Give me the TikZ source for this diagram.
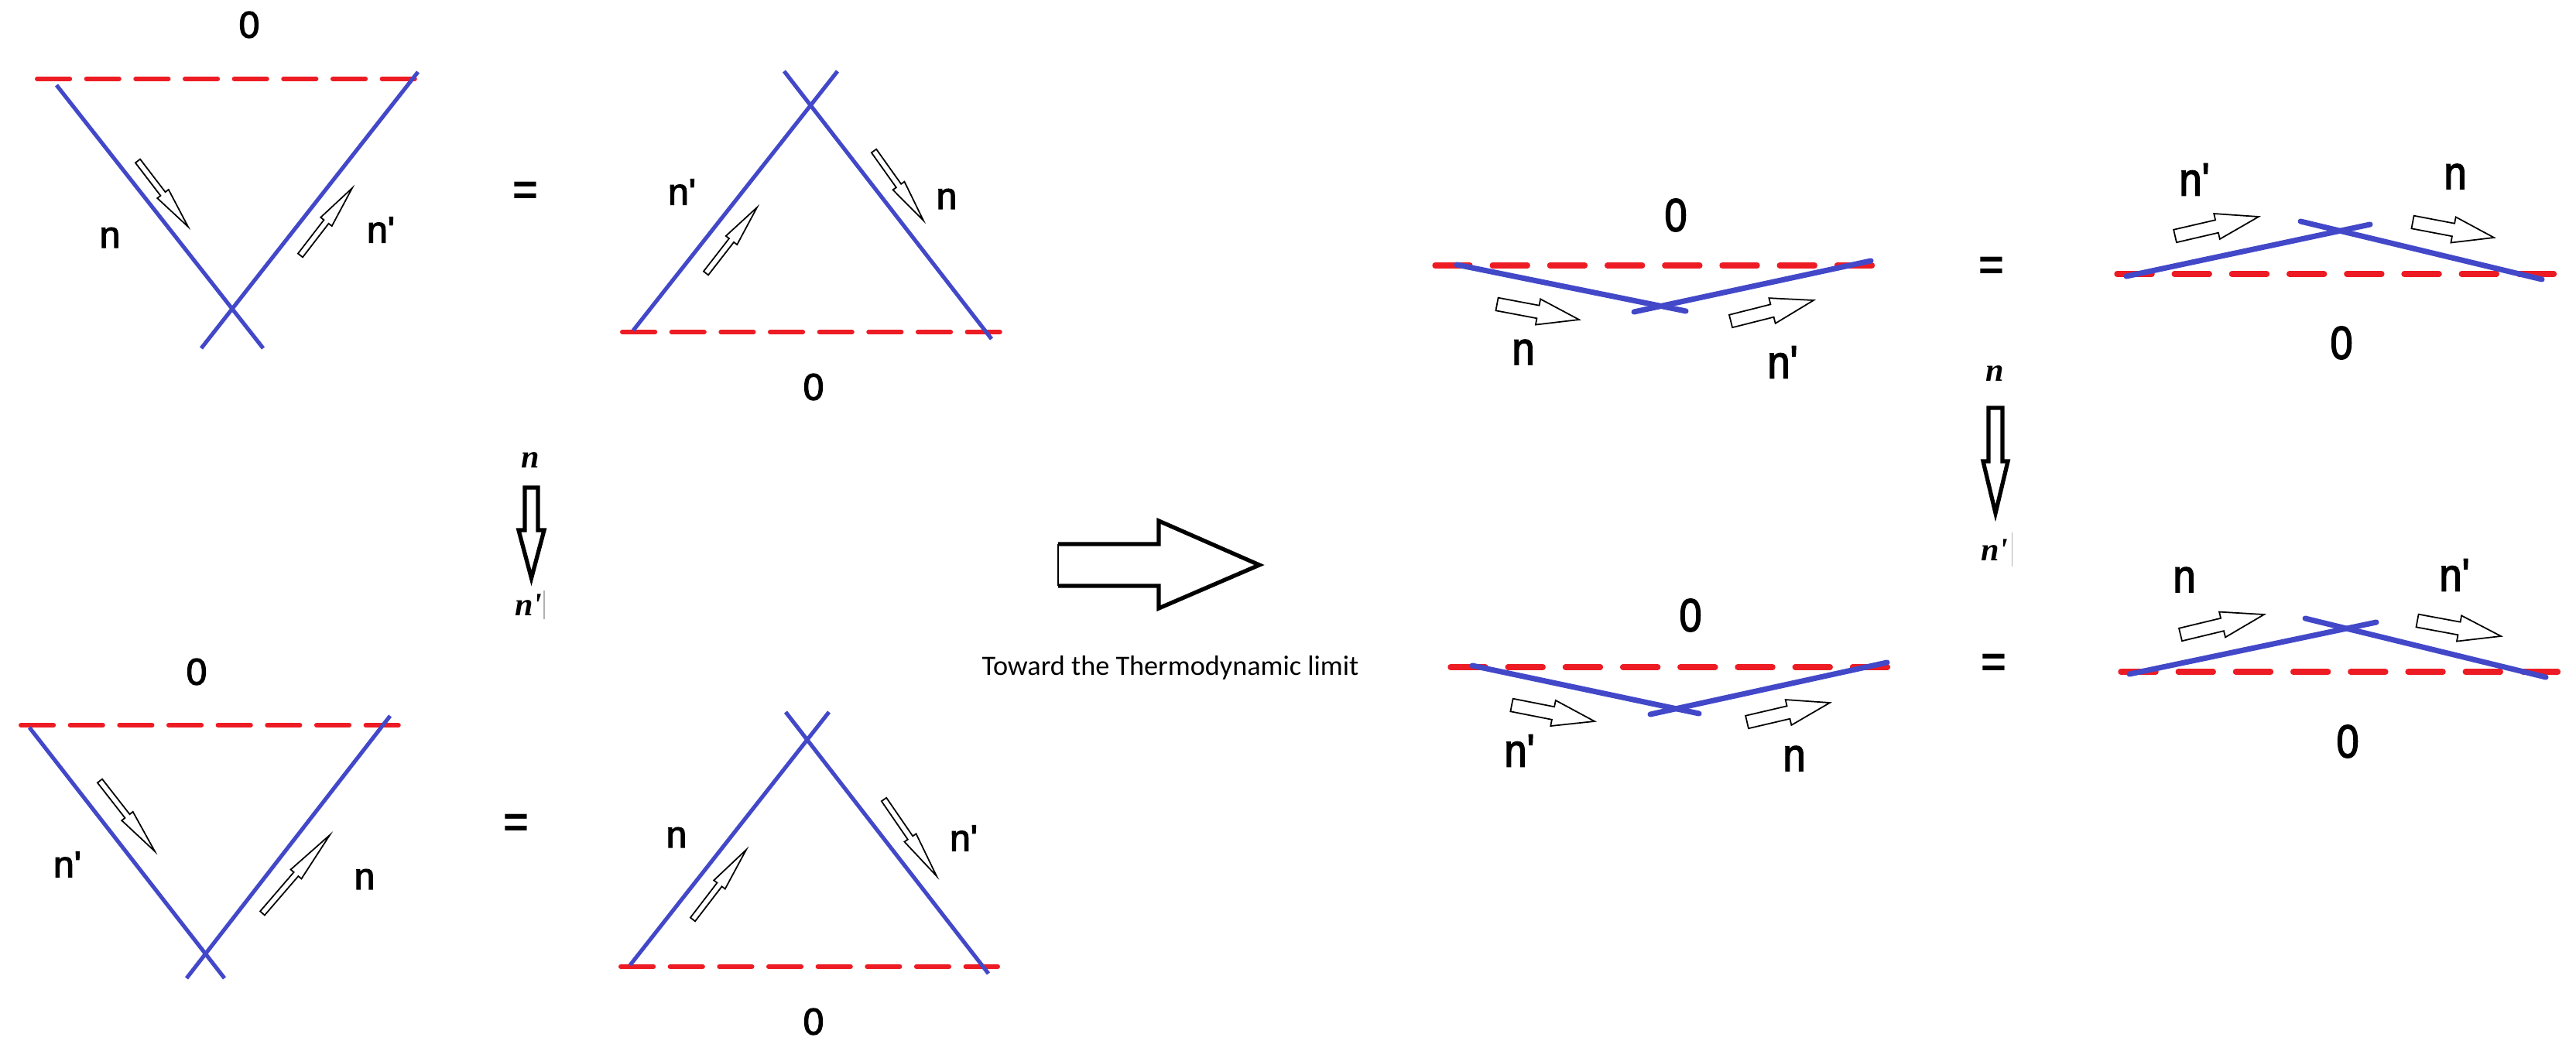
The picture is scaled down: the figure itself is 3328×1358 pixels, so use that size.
\documentclass[tikz,border=0pt]{standalone}
\usepackage{fontspec}
\usepackage{graphicx}
\setmainfont{Liberation Sans}
\newfontfamily\labfont{Liberation Sans}[AutoFakeBold=2.5]
\newfontfamily\calfont{Carlito}
\newfontfamily\srffont{Liberation Serif}
\usetikzlibrary{calc}
\definecolor{lblue}{RGB}{66,72,200}
\definecolor{lred}{RGB}{237,28,36}
\newcommand\nx[1]{\scalebox{0.88}[1]{#1}}
\newcommand\pr{\char39\relax}
\newcommand\harr[5]{%
  \draw[arrowline] ($#1!#3!90:#2$) -- ($#1!#5!#2!#3!90:#2$) -- ($#1!#5!#2!#4!90:#2$) -- #2
   -- ($#1!#5!#2!#4!-90:#2$) -- ($#1!#5!#2!#3!-90:#2$) -- ($#1!#3!-90:#2$) -- cycle;}
\newcommand\tarr[2]{\harr{#1}{#2}{1.1pt}{2.6pt}{0.5}}
\newcommand\rarr[2]{\harr{#1}{#2}{2.4pt}{4.8pt}{0.5}}
\begin{document}
\begin{tikzpicture}[x=0.01cm, y=-0.01cm,
  bline/.style={lblue, line width=1.45pt},
  bthick/.style={lblue, line width=2pt, line cap=round},
  rdash/.style={lred, line width=1.7pt, line cap=round, dash pattern=on 12pt off 6.1pt},
  rdashthick/.style={lred, line width=2.1pt, line cap=round, dash pattern=on 12.8pt off 8.3pt},
  lab/.style={inner sep=0pt, font=\labfont\bfseries\fontsize{13.7}{14}\selectfont},
  labbig/.style={inner sep=0pt, font=\labfont\bfseries\fontsize{17}{18}\selectfont},
  eqsign/.style={inner sep=0pt, font=\bfseries\fontsize{16}{16}\selectfont},
  itlab/.style={inner sep=0pt, font=\srffont\bfseries\itshape\fontsize{12}{12}\selectfont},
  arrowline/.style={black, line width=0.5pt, fill=white, line join=miter},
  bigarrow/.style={black, line width=1.5pt, fill=white, line join=miter},
  stray/.style={black!30, line width=0.3pt}]
\fill[white] (0,0) rectangle (3328,1358);
\useasboundingbox (0,0) rectangle (3328,1358);

% ---------- Panel A (top left) ----------
\coordinate (Ar1) at (48,102); \coordinate (Ar2) at (553,102);
\coordinate (Al1) at (73,110); \coordinate (Al2) at (340,450);
\coordinate (Ak1) at (540,93); \coordinate (Ak2) at (260,450);
\draw[rdash] (Ar1) -- (Ar2);
\draw[bline] (Al1) -- (Al2);
\draw[bline] (Ak1) -- (Ak2);
\tarr{(178,208)}{(243,293)}
\tarr{(388,330)}{(455,243)}
\node[lab] (A0) at (322,32) {0};
\node[lab] (An) at (142,307) {n};
\node[lab] (Anp) at (492,297) {n\pr};
\node[eqsign] (Aeq) at (679,250) {=};

% ---------- Panel B (top middle) ----------
\coordinate (Br1) at (804,429); \coordinate (Br2) at (1295,429);
\coordinate (Bl1) at (818,427); \coordinate (Bl2) at (1082,92);
\coordinate (Bk1) at (1013,92); \coordinate (Bk2) at (1281,438);
\draw[rdash] (Br1) -- (Br2);
\draw[bline] (Bl1) -- (Bl2);
\draw[bline] (Bk1) -- (Bk2);
\tarr{(912,353)}{(978,268)}
\tarr{(1129,195)}{(1193,285)}
\node[lab] (Bnp) at (881,248) {n\pr};
\node[lab] (Bn) at (1223,257) {n};
\node[lab] (B0) at (1051,500) {0};

% ---------- left vertical arrow ----------
\node[itlab] (Vn) at (685,595) {n};
\node[itlab] (Vnp) at (683,782) {n\pr};
\draw[bigarrow] (678,630) -- (695,630) -- (695,685) -- (703,685) -- (686.5,747) -- (670,685) -- (678,685) -- cycle;
\draw[stray] (703,763) -- (703,800);

% ---------- Panel C (bottom left) ----------
\coordinate (Cr1) at (27,937); \coordinate (Cr2) at (522,937);
\coordinate (Cl1) at (38,940); \coordinate (Cl2) at (290,1264);
\coordinate (Ck1) at (504,925); \coordinate (Ck2) at (241,1264);
\draw[rdash] (Cr1) -- (Cr2);
\draw[bline] (Cl1) -- (Cl2);
\draw[bline] (Ck1) -- (Ck2);
\tarr{(129,1009)}{(200,1100)}
\tarr{(339,1180)}{(426,1079)}
\node[lab] (C0) at (254,868) {0};
\node[lab] (Cnp) at (87,1117) {n\pr};
\node[lab] (Cn) at (471,1136) {n};
\node[eqsign] (Ceq) at (667,1067) {=};

% ---------- Panel D (bottom middle) ----------
\coordinate (Dr1) at (802,1249); \coordinate (Dr2) at (1289,1249);
\coordinate (Dl1) at (814,1247); \coordinate (Dl2) at (1071,920);
\coordinate (Dk1) at (1015,920); \coordinate (Dk2) at (1277,1258);
\draw[rdash] (Dr1) -- (Dr2);
\draw[bline] (Dl1) -- (Dl2);
\draw[bline] (Dk1) -- (Dk2);
\tarr{(895,1188)}{(964,1098)}
\tarr{(1142,1033)}{(1210,1132)}
\node[lab] (Dn) at (874,1082) {n};
\node[lab] (Dnp) at (1245,1083) {n\pr};
\node[lab] (D0) at (1051,1320) {0};

% ---------- big arrow and caption ----------
\draw[bigarrow] (1367,703) -- (1497,703) -- (1497,673) -- (1627,730) -- (1497,786) -- (1497,757) -- (1367,757);
\draw[black, line width=0.4pt] (1367,703) -- (1367,757);
\node[inner sep=0pt, anchor=base, font=\calfont\fontsize{10.3}{11}\selectfont] (cap) at (1512,872) {Toward the Thermodynamic limit};

% ---------- Panel E (right, top left) ----------
\coordinate (Er1) at (1854,343); \coordinate (Er2) at (2435,343);
\coordinate (El1) at (1882,342); \coordinate (El2) at (2178,402);
\coordinate (Ek1) at (2417,337); \coordinate (Ek2) at (2111,403);
\draw[rdashthick] (Er1) -- (Er2);
\draw[bthick] (El1) -- (El2);
\draw[bthick] (Ek1) -- (Ek2);
\rarr{(1934,393)}{(2040,413)}
\rarr{(2236,415)}{(2343,388)}
\node[labbig] (E0) at (2165,278) {\nx{0}};
\node[labbig] (En) at (1968,455) {\nx{n}};
\node[labbig] (Enp) at (2303,468) {\nx{n\pr}};
\node[eqsign] (Eeq) at (2573,347) {=};

% ---------- Panel F (right, top right) ----------
\coordinate (Fr1) at (2735,354); \coordinate (Fr2) at (3300,354);
\coordinate (Fl1) at (2747,357); \coordinate (Fl2) at (3062,290);
\coordinate (Fk1) at (2972,286); \coordinate (Fk2) at (3284,361);
\draw[rdashthick] (Fr1) -- (Fr2);
\draw[bthick] (Fl1) -- (Fl2);
\draw[bthick] (Fk1) -- (Fk2);
\rarr{(2810,305)}{(2918,280)}
\rarr{(3117,287)}{(3222,307)}
\node[labbig] (Fnp) at (2835,232) {\nx{n\pr}};
\node[labbig] (Fn) at (3172,228) {\nx{n}};
\node[labbig] (F0) at (3025,443) {\nx{0}};

% ---------- right vertical arrow ----------
\node[itlab] (Wn) at (2577,483) {n};
\node[itlab] (Wnp) at (2577,711) {n\pr};
\draw[bigarrow] (2569,527) -- (2587,527) -- (2587,596) -- (2594,596) -- (2578,663) -- (2562,596) -- (2569,596) -- cycle;
\draw[stray] (2599,688) -- (2599,732);

% ---------- Panel G (right, bottom left) ----------
\coordinate (Gr1) at (1874,862); \coordinate (Gr2) at (2456,862);
\coordinate (Gl1) at (1902,860); \coordinate (Gl2) at (2195,922);
\coordinate (Gk1) at (2438,856); \coordinate (Gk2) at (2132,923);
\draw[rdashthick] (Gr1) -- (Gr2);
\draw[bthick] (Gl1) -- (Gl2);
\draw[bthick] (Gk1) -- (Gk2);
\rarr{(1953,911)}{(2060,932)}
\rarr{(2257,933)}{(2364,908)}
\node[labbig] (G0) at (2184,795) {\nx{0}};
\node[labbig] (Gnp) at (1963,970) {\nx{n\pr}};
\node[labbig] (Gn) at (2318,980) {\nx{n}};
\node[eqsign] (Geq) at (2576,860) {=};

% ---------- Panel H (right, bottom right) ----------
\coordinate (Hr1) at (2740,868); \coordinate (Hr2) at (3308,868);
\coordinate (Hl1) at (2751,871); \coordinate (Hl2) at (3070,804);
\coordinate (Hk1) at (2978,799); \coordinate (Hk2) at (3289,875);
\draw[rdashthick] (Hr1) -- (Hr2);
\draw[bthick] (Hl1) -- (Hl2);
\draw[bthick] (Hk1) -- (Hk2);
\rarr{(2817,820)}{(2925,794)}
\rarr{(3123,802)}{(3231,822)}
\node[labbig] (Hn) at (2822,749) {\nx{n}};
\node[labbig] (Hnp) at (3171,743) {\nx{n\pr}};
\node[labbig] (H0) at (3033,958) {\nx{0}};
\end{tikzpicture}
\end{document}
